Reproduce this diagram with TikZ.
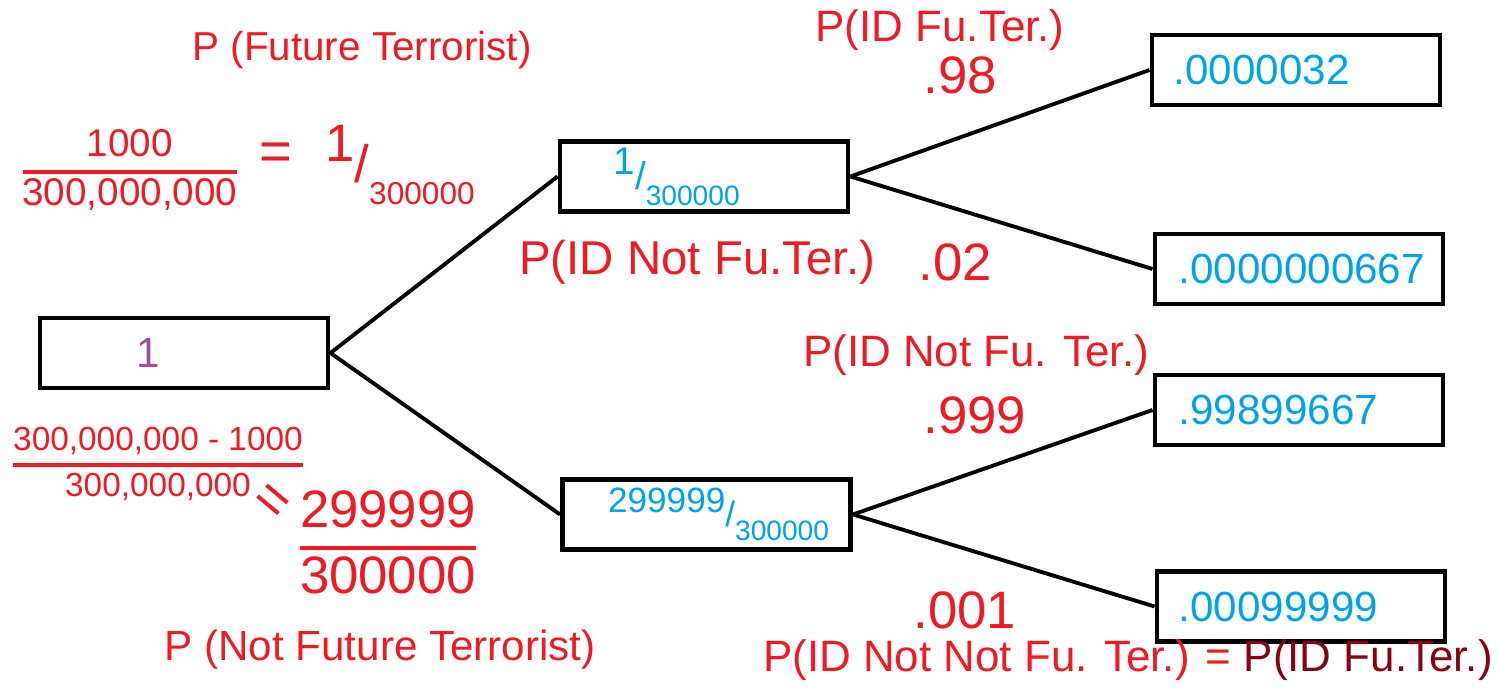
\documentclass[tikz,border=0pt]{standalone}
\usepackage{fontspec}
\setmainfont{Liberation Sans}
\usepackage{tikz}
\usetikzlibrary{positioning}

\definecolor{pred}{RGB}{237,28,36}
\definecolor{pblue}{RGB}{0,162,232}
\definecolor{ppurple}{RGB}{163,73,164}
\definecolor{pdark}{RGB}{136,0,21}

\newcommand{\slfrac}[2]{\raisebox{.35em}{#1}\raisebox{-.05em}{/}\raisebox{-.45em}{\footnotesize #2}}

\begin{document}
\begin{tikzpicture}[semithick]
\tikzstyle{box}=[draw=black,line width=1.4pt,minimum width=2.88cm,minimum height=0.7cm,inner sep=0pt]
\tikzstyle{val}=[text=pblue,font=\fontsize{12}{14}\selectfont,inner sep=0pt]
\tikzstyle{lbl}=[text=pred,font=\fontsize{12.5}{15}\selectfont,inner sep=1pt]
\tikzstyle{prob}=[text=pred,font=\fontsize{15}{18}\selectfont,inner sep=1pt]
\tikzstyle{branch}=[line width=1.1pt]
\useasboundingbox (0,0) rectangle (14.98,6.94);

% the tree
\node[box] (root) at (1.84,3.41) {};
\node[box] (up) at (7.04,5.175) {};
\node[box] (low) at (7.065,1.795) {};
\node[box] (ll1) at (12.96,6.24) {};
\node[box] (ll2) at (12.99,4.25) {};
\node[box] (ll3) at (12.99,2.84) {};
\node[box] (ll4) at (13.01,0.875) {};

\node[val,text=ppurple,right=9.8mm of root.west] (vroot) {1};
\node[val,font=\fontsize{11}{13}\selectfont,right=5.5mm of up.west] (vup) {\slfrac{1}{300000}};
\node[val,font=\fontsize{10}{12}\selectfont,right=4.7mm of low.west] (vlow) {\slfrac{299999}{300000}};
\node[val,right=2.3mm of ll1.west] (vll1) {.0000032};
\node[val,right=2.5mm of ll2.west] (vll2) {.0000000667};
\node[val,right=2.5mm of ll3.west] (vll3) {.99899667};
\node[val,right=2.3mm of ll4.west] (vll4) {.00099999};

\path[branch]
(root.east) edge (up.west)
(root.east) edge (low.west)
(up.east) edge (ll1.west)
(up.east) edge (ll2.west)
(low.east) edge (ll3.west)
(low.east) edge (ll4.west);

% notes on the left
\node[lbl,font=\fontsize{11.5}{14}\selectfont] (ft) at (3.62,6.44) {P (Future Terrorist)};
\node[lbl,font=\fontsize{12}{14}\selectfont] (nft) at (3.80,0.44) {P (Not Future Terrorist)};
\node[lbl,font=\fontsize{11}{13}\selectfont] (fr1) at (1.30,5.22)
  {\arrayrulewidth=0.9pt\begin{tabular}{@{}c@{}}1000\\\hline 300,000,000\end{tabular}};
\node[lbl,font=\fontsize{16}{18}\selectfont] (eq1) at (2.76,5.37) {=};
\node[lbl,font=\fontsize{15}{18}\selectfont] (sl1) at (4.0,5.29) {\raisebox{.35em}{1}\raisebox{-.05em}{/}\raisebox{-.45em}{\small 300000}};
\node[lbl,font=\fontsize{9.5}{12}\selectfont] (fr2) at (1.58,2.29)
  {\arrayrulewidth=0.9pt\begin{tabular}{@{}c@{}}300,000,000 - 1000\\\hline 300,000,000\end{tabular}};
\node[lbl,font=\fontsize{16}{18}\selectfont,rotate=-40] (eq2) at (2.70,1.90) {=};
\node[lbl,font=\fontsize{15}{18}\selectfont] (fr3) at (3.88,1.46)
  {\arrayrulewidth=0.9pt\begin{tabular}{@{}c@{}}299999\\\hline 300000\end{tabular}};

% branch probabilities
\node[lbl] (l1) at (9.40,6.64) {P(ID Fu.Ter.)};
\node[prob] (p98) at (9.60,6.19) {.98};
\node[lbl,font=\fontsize{13.5}{16}\selectfont] (l2) at (6.97,4.32) {P(ID Not Fu.Ter.)};
\node[prob] (p02) at (9.55,4.32) {.02};
\node[lbl] (l3) at (9.76,3.39) {P(ID Not Fu. Ter.)};
\node[prob] (p999) at (9.75,2.79) {.999};
\node[prob] (p001) at (9.65,0.84) {.001};
\node[lbl] (l4) at (11.28,0.34) {P(ID Not Not Fu. Ter.) = \textcolor{pdark}{P(ID Fu.Ter.)}};
\end{tikzpicture}
\end{document}
